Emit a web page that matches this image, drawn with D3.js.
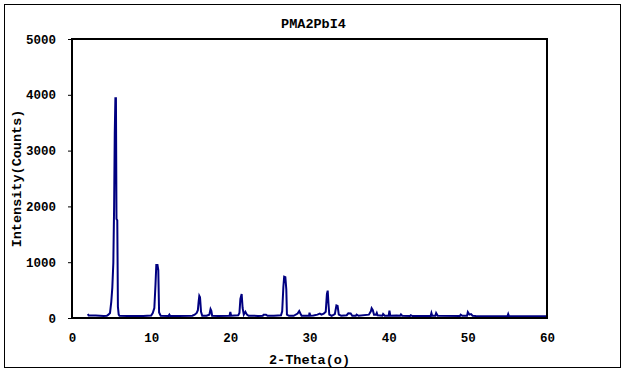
<!DOCTYPE html>
<html><head><meta charset="utf-8">
<script src="https://cdn.jsdelivr.net/npm/d3@7"></script>
<style>body{margin:0;background:#fff}svg{display:block}</style>
</head><body>
<script>
const title = "PMA2PbI4";
const xTitle = "2-Theta(o)";
const yTitle = "Intensity(Counts)";
const xTicks = [0,10,20,30,40,50,60];
const yTicks = [0,1000,2000,3000,4000,5000];
const twoTheta = [2.0,2.1,2.5,3.0,3.5,4.0,4.4,4.6,4.8,4.96,5.09,5.22,5.32,5.4,5.48,5.55,5.62,5.72,5.8,5.9,6.0,
  7.0,8.0,9.0,10.0,10.2,10.4,10.55,10.65,10.8,10.9,11.0,11.2,12.2,12.3,12.4,13.5,15.2,15.5,15.75,15.9,16.0,16.08,16.17,16.3,16.45,17.0,17.35,17.5,17.6,17.7,
  18.5,19.9,20.0,20.1,21.0,21.15,21.27,21.43,21.55,21.7,21.9,22.1,22.3,23.5,24.1,24.2,24.5,24.7,25.5,26.0,26.4,26.55,26.7,26.8,26.95,27.07,27.15,27.4,
  28.0,28.5,28.7,28.85,29.0,29.8,29.95,30.0,30.1,30.5,31.0,31.3,31.5,31.8,32.05,32.2,32.3,32.4,32.5,32.8,33.2,33.4,33.55,33.7,34.0,34.7,34.9,35.2,35.4,
  35.85,35.95,36.2,37.5,37.75,37.85,38.0,38.15,38.4,38.5,38.6,39.2,39.3,39.5,40.0,40.1,40.2,41.0,41.45,41.55,41.7,42.7,42.8,43.0,45.3,45.4,45.5,45.9,46.0,46.2,
  49.0,49.1,49.3,49.9,50.0,50.2,50.4,50.6,51.0,55.0,55.1,55.2,60.0];
const intensity = [70,45,45,45,40,35,40,60,90,290,540,985,2000,3300,3940,3940,1775,1750,200,60,40,
  38,35,38,45,90,180,610,950,950,860,100,40,38,60,35,35,40,60,90,140,300,395,370,110,40,40,60,160,130,40,
  35,40,110,40,50,90,340,430,180,60,110,60,40,38,40,60,60,40,40,45,50,120,560,740,730,515,60,40,
  40,80,125,80,40,40,40,95,40,45,60,80,60,80,110,430,490,250,60,40,70,225,215,60,40,50,85,80,40,
  40,60,40,60,120,175,140,60,60,90,50,40,70,40,40,130,40,45,40,65,40,35,50,35,35,90,40,40,90,40,
  35,60,40,40,105,60,70,40,35,30,70,30,30];

const W = 630, H = 375;
const m = {left:72, right:547, top:39, bottom:318};
const svg = d3.select("body").append("svg").attr("width",W).attr("height",H);
const font = "'Liberation Mono', 'DejaVu Sans Mono', monospace";

svg.append("rect").attr("x",4.5).attr("y",4.5).attr("width",616).attr("height",363)
  .attr("fill","#fff").attr("stroke","#000").attr("stroke-width",1);

const x = d3.scaleLinear().domain([0,60]).range([m.left,m.right]);
const y = d3.scaleLinear().domain([0,5000]).range([m.bottom,m.top]);

const data = twoTheta.map((t,i)=>[t,intensity[i]]);
svg.append("path").datum(data)
  .attr("d", d3.line().x(d=>x(d[0])).y(d=>y(d[1])))
  .attr("fill","none").attr("stroke","#000080").attr("stroke-width",2).attr("stroke-linejoin","miter");

svg.append("rect").attr("x",m.left).attr("y",m.top).attr("width",m.right-m.left).attr("height",m.bottom-m.top)
  .attr("fill","none").attr("stroke","#000").attr("stroke-width",2);

const yAxis = svg.append("g").attr("transform",`translate(${m.left},0)`)
  .call(d3.axisLeft(y).tickValues(yTicks).tickSize(4).tickPadding(12).tickFormat(d3.format("d")));
yAxis.select(".domain").remove();
yAxis.selectAll("line").attr("stroke","#000").attr("stroke-width",1);
yAxis.selectAll("text").attr("font-family",font).attr("font-size",12.5).attr("font-weight","bold").attr("fill","#000");

const xAxis = svg.append("g").attr("transform",`translate(0,${m.bottom})`)
  .call(d3.axisBottom(x).tickValues(xTicks).tickSize(0).tickPadding(15).tickFormat(d3.format("d")));
xAxis.select(".domain").remove();
xAxis.selectAll("text").attr("font-family",font).attr("font-size",12.5).attr("font-weight","bold").attr("fill","#000");

svg.append("text").attr("x",(m.left+m.right)/2+4).attr("y",28).attr("text-anchor","middle")
  .attr("font-family",font).attr("font-size",13.5).attr("font-weight","bold").text(title);
svg.append("text").attr("x",(m.left+m.right)/2).attr("y",364).attr("text-anchor","middle")
  .attr("font-family",font).attr("font-size",13.5).attr("font-weight","bold").text(xTitle);
svg.append("text").attr("transform",`translate(21,${(m.top+m.bottom)/2}) rotate(-90)`).attr("text-anchor","middle")
  .attr("font-family",font).attr("font-size",13.5).attr("font-weight","bold").text(yTitle);
</script>
</body></html>
